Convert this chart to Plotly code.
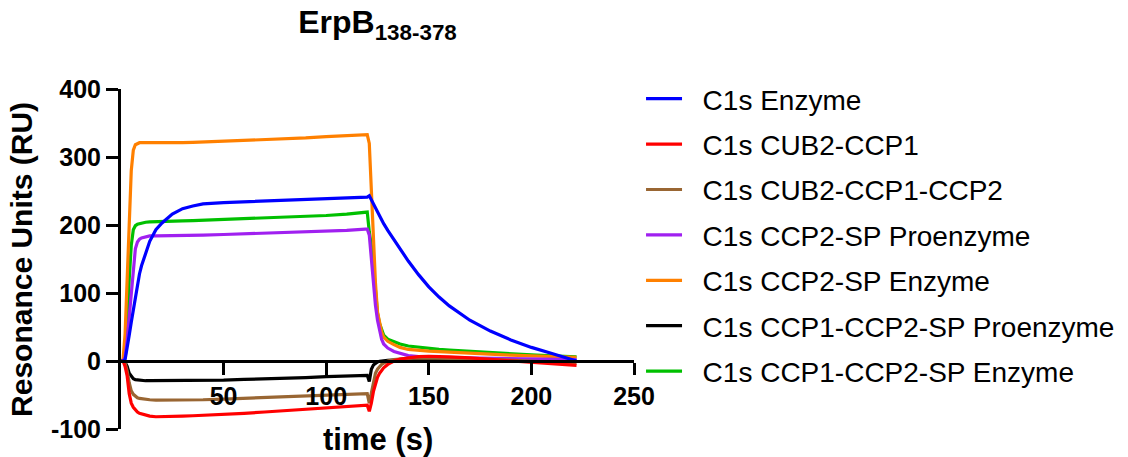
import plotly.graph_objects as go

# ---- data ----
time_s = [0, 1, 2, 3, 4, 5, 6, 7, 8, 9, 10, 12, 14, 17, 20, 25, 30, 35, 40, 50, 60, 70, 80, 90, 100, 110,
          119, 120, 121, 122, 123, 124, 125, 126, 127, 128, 130, 133, 136, 140, 145, 150, 155, 160,
          170, 180, 190, 200, 210, 222]

c1s_enzyme = [0, 0, 2, 18, 38, 57, 75, 95, 115, 128, 140, 160, 176, 193, 203, 216, 224, 228, 231, 233, 234, 235, 236, 237, 239, 240,
              241, 241, 243, 237, 231, 225, 219, 213, 208, 202, 192, 178, 165, 147, 127, 109, 94, 81,
              60, 44, 31, 20, 11, 0]
c1s_cub2_ccp1 = [0, 0, -8, -22, -48, -62, -68, -72, -75, -77, -78, -80, -81, -82, -82, -82, -81, -80.5, -80, -79, -77, -75, -73, -71, -69, -67,
                 -65, -65, -74, -62, -45, -33, -24, -18, -14, -10, -5, 0, 3, 5, 6.5, 7, 6.8, 6,
                 4.5, 2.5, 0, -2, -4, -6.5]
c1s_cub2_ccp1_ccp2 = [0, 0, -3, -15, -32, -44, -49, -52, -54, -55, -55.5, -56.5, -57, -57.5, -57.5, -58, -58, -57.5, -57, -56, -55, -54, -53, -52, -50.5, -49,
                      -48, -48, -62, -48, -30, -18, -12, -8, -5, -3, 0, 2, 3, 4, 4.5, 4.5, 4.3, 4,
                      3.5, 2.5, 1.5, 0, -1.5, -3]
c1s_ccp2_sp_proenzyme = [0, 0, 5, 30, 65, 100, 140, 165, 175, 179, 181, 183, 184, 184, 184, 184, 185, 185, 185, 186, 187, 187, 188, 189, 190, 192,
                         194, 194, 185, 150, 110, 82, 60, 43, 32, 25, 19, 14, 11, 8, 6.5, 5.5, 5.2, 5,
                         4.5, 4, 3.5, 3, 2.5, 2]
c1s_ccp2_sp_enzyme = [0, 2, 40, 110, 200, 280, 310, 318, 320, 321, 321, 321, 320.5, 320, 320, 320, 321, 321.5, 322, 323, 324, 325, 326, 328, 330, 332,
                      333, 333, 320, 250, 175, 115, 72, 55, 43, 35, 29, 24, 20, 17, 15.5, 14.5, 13.8, 13,
                      11, 9.5, 8.5, 7.5, 6.5, 5.5]
c1s_ccp1_ccp2_sp_proenzyme = [0, 0, -2, -8, -18, -23, -26, -27.5, -28, -28.3, -28.5, -29, -29, -29, -29, -29, -29, -28.8, -28.5, -28, -27, -26.5, -25.5, -24.5, -23, -22,
                              -21, -21, -30, -12, -6, -3, -1.5, -0.5, 0, 0.5, 1, 1.5, 2, 2, 2, 2, 2, 2,
                              1.5, 1.5, 1, 0.5, 0, -0.5]
c1s_ccp1_ccp2_sp_enzyme = [0, 0, 10, 50, 120, 170, 193, 199, 201, 202, 203, 204, 204.5, 205, 205, 206, 206, 206.5, 207, 208, 209, 210, 211, 212, 214, 216,
                           219, 219, 190, 170, 140, 105, 70, 55, 45, 38, 32, 28, 25, 22, 20, 18, 17, 16,
                           14, 12, 10.5, 9, 7.5, 6]

series_names = ["C1s Enzyme", "C1s CUB2-CCP1", "C1s CUB2-CCP1-CCP2", "C1s CCP2-SP Proenzyme",
                "C1s CCP2-SP Enzyme", "C1s CCP1-CCP2-SP Proenzyme", "C1s CCP1-CCP2-SP Enzyme"]
series_values = [c1s_enzyme, c1s_cub2_ccp1, c1s_cub2_ccp1_ccp2, c1s_ccp2_sp_proenzyme,
                 c1s_ccp2_sp_enzyme, c1s_ccp1_ccp2_sp_proenzyme, c1s_ccp1_ccp2_sp_enzyme]
series_colors = ["#0000FF", "#FF0000", "#996633", "#A020F0", "#FF8000", "#000000", "#00C000"]

x_tick_vals = [50, 100, 150, 200, 250]
y_tick_vals = [-100, 0, 100, 200, 300, 400]
y_tick_text = ["-100", "0", "100", "200", "300", "400"]

FONT = "Arial, Liberation Sans, sans-serif"
GAP = "\u00a0\u00a0"  # small visual gap between legend line and label

fig = go.Figure()
# draw in reverse so the first series sits on top
for i in reversed(range(len(series_names))):
    fig.add_trace(go.Scatter(
        x=time_s, y=series_values[i], mode="lines", name=GAP + series_names[i],
        line=dict(color=series_colors[i], width=3.2),
        legendgroup=f"g{i}", legendrank=i + 1,
    ))

fig.update_layout(
    width=1128, height=457,
    margin=dict(l=121, r=494, t=89, b=28, autoexpand=False),
    paper_bgcolor="white", plot_bgcolor="white",
    font=dict(family=FONT, color="black"),
    title=dict(text="ErpB<sub>138-378</sub>", x=0.5, xref="paper", xanchor="center",
               y=0.952, yref="container", yanchor="middle",
               font=dict(size=32, weight="bold", family=FONT, color="black")),
    showlegend=True,
    legend=dict(x=1.0137, xanchor="left", y=0.097, yanchor="bottom",
                font=dict(size=28, family=FONT, color="black"),
                bgcolor="rgba(0,0,0,0)", tracegroupgap=6, itemwidth=36,
                traceorder="grouped"),
    xaxis=dict(range=[0, 250], anchor="free", position=0.2, side="bottom",
               showline=True, linecolor="black", linewidth=3,
               ticks="outside", ticklen=12, tickwidth=3, tickcolor="black",
               tickvals=x_tick_vals, showgrid=False, zeroline=False,
               tickfont=dict(size=25, weight="bold", family=FONT, color="black")),
    yaxis=dict(range=[-100, 400], showline=True, linecolor="black", linewidth=3,
               ticks="outside", ticklen=12, tickwidth=3, tickcolor="black",
               tickvals=y_tick_vals, ticktext=y_tick_text, showgrid=False, zeroline=False,
               tickfont=dict(size=25, weight="bold", family=FONT, color="black")),
    annotations=[
        dict(text="time (s)", x=0.5, xref="paper", y=-0.032, yref="paper",
             xanchor="center", yanchor="middle", showarrow=False,
             font=dict(size=31, weight="bold", family=FONT, color="black")),
        dict(text="Resonance Units (RU)", x=-0.195, xref="paper", y=0.5, yref="paper",
             xanchor="center", yanchor="middle", textangle=-90, showarrow=False,
             font=dict(size=30, weight="bold", family=FONT, color="black")),
    ],
)

fig.write_html("out.html")
